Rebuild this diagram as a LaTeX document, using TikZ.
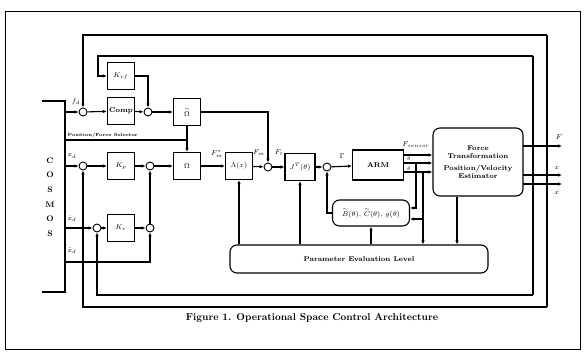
\documentclass[tikz,border=0pt]{standalone}
\usepackage{amsmath}
\usetikzlibrary{arrows.meta}
\begin{document}
\begin{tikzpicture}[x=1pt,y=-1pt]
  \tikzset{
    blk/.style={draw, line width=1.1pt, minimum width=27pt, minimum height=27pt, inner sep=1pt, font=\scriptsize\bfseries},
    rblk/.style={blk, rounded corners=7pt},
    sum/.style={draw, circle, line width=0.9pt, minimum size=8pt, inner sep=0pt},
    sig/.style={line width=1.1pt},
    arr/.style={sig, -{Latex[length=4pt,width=3.5pt]}},
    lbl/.style={font=\scriptsize, inner sep=0.5pt}
  }
  \useasboundingbox (0,0) rectangle (585,355);
  \draw[line width=0.8pt] (5,11) rectangle (580,349);

  % blocks
  \node[blk] (kvf) at (121,76) {$K_{vf}$};
  \node[blk] (comp) at (121,111) {Comp};
  \node[blk] (omt) at (187,112) {$\overset{\sim}{\Omega}$};
  \node[blk] (kp) at (121,166) {$K_p$};
  \node[blk] (om) at (187,166) {$\Omega$};
  \node[blk] (kv) at (121,228) {$K_v$};
  \node[blk] (lam) at (239,166) {$\Lambda(x)$};
  \node[blk, minimum width=30pt] (jt) at (300,167) {$J^T(\theta)$};
  \node[blk, minimum width=51pt, minimum height=30pt] (arm) at (378,165) {ARM};
  \node[rblk, minimum width=77pt, minimum height=26pt] (est) at (371,213)
    {$\overset{\sim}{B}(\theta),\,\overset{\sim}{C}(\theta),\,g(\theta)$};
  \node[rblk, minimum width=90pt, minimum height=68pt, align=center] (force) at (478,162)
    {Force\\Transformation\\[4pt]Position/Velocity\\Estimator};
  \node[rblk, minimum width=258pt, minimum height=28pt] (pel) at (359,259) {Parameter Evaluation Level};

  % summing junctions
  \node[sum] (sf) at (83,112) {};
  \node[sum] (sc) at (148,112) {};
  \node[sum] (sp) at (83,166) {};
  \node[sum] (sp2) at (150,166) {};
  \node[sum] (sv) at (97,228) {};
  \node[sum] (sv2) at (150,228) {};
  \node[sum] (sm) at (268,167) {};
  \node[sum] (sg) at (327,167) {};

  % COSMOS
  \draw[sig] (42,101) -- (65,101) -- (65,292) -- (42,292);
  \node[font=\fontsize{8}{14.6}\selectfont\bfseries, align=center] (cosmos) at (50,197) {C\\O\\S\\M\\O\\S};
  \coordinate (cfd) at (65,112);
  \coordinate (csel) at (65,140);
  \coordinate (cxd) at (65,166);
  \coordinate (cvd) at (65,228);
  \coordinate (cad) at (65,262);

  % feedback loops
  \coordinate (tf) at (547,35);
  \coordinate (tv) at (533,56);
  \coordinate (bf) at (547,307);
  \coordinate (bv) at (533,295);
  \coordinate (kvc) at (98,56);
  \draw[arr] (tf) -| (sf);
  \draw[sig] (bf) -- (tf);
  \draw[arr] (bf) -| (sp);
  \draw[arr] (tv) -- (kvc) |- (kvf.west);
  \draw[sig] (bv) -- (tv);
  \draw[arr] (bv) -| (sv);

  % force row
  \draw[arr] (cfd) -- (sf);
  \draw[arr] (sf) -- (comp);
  \draw[arr] (comp) -- (sc);
  \draw[arr] (kvf.east) -| (sc);
  \draw[arr] (sc) -- (omt);
  \draw[arr] (omt) -- (om);
  \draw[sig] (csel) -- (csel -| om);
  \node[font=\fontsize{4.5}{5}\selectfont\bfseries, anchor=south west, inner sep=0.5pt] (seltxt) at (67,138) {Position/Force Selector};
  \draw[arr] (omt.east) -| (sm);

  % position row
  \draw[arr] (cxd) -- (sp);
  \draw[arr] (sp) -- (kp);
  \draw[arr] (kp) -- (sp2);
  \draw[arr] (sp2) -- (om);
  \draw[arr] (cvd) -- (sv);
  \draw[arr] (sv) -- (kv);
  \draw[arr] (kv) -- (sv2);
  \draw[arr] (sv2) -- (sp2);
  \draw[arr] (cad) -| (sv2);

  % main path
  \draw[arr] (om) -- (lam);
  \draw[arr] (lam) -- (sm);
  \draw[arr] (sm) -- (jt);
  \draw[arr] (jt) -- (sg);
  \draw[arr] (sg) -- (arm);
  \draw[arr] (est.west) -| (sg);

  % arm outputs
  \coordinate (afs) at (403,155);
  \coordinate (ath) at (403,163);
  \coordinate (atd) at (403,172);
  \coordinate (tth) at (416,163);
  \coordinate (ttd) at (423,172);
  \draw[arr] (afs) -- (afs -| force.west);
  \draw[arr] (ath) -- (ath -| force.west);
  \draw[arr] (atd) -- (atd -| force.west);
  \draw[arr] (tth) |- ([yshift=5pt]est.east);
  \draw[arr] (ttd) -- (ttd |- pel.north);
  \draw[arr] (ttd |- 0,219) -- (est.east |- 0,219);

  % parameter links
  \draw[arr] (pel.north -| lam) -- (lam);
  \draw[arr] (pel.north -| jt) -- (jt);
  \draw[arr] (pel.north -| est) -- (est);
  \draw[arr] (force.south -| 457,0) -- (pel.north -| 457,0);

  % outputs
  \coordinate (of) at (523,146);
  \coordinate (ox) at (523,175);
  \coordinate (ov) at (523,184);
  \draw[arr] (of) -- (562,146);
  \draw[arr] (ox) -- (562,175);
  \draw[arr] (ov) -- (562,184);

  % labels
  \node[lbl] (lfd) at (76,102) {$f_d$};
  \node[lbl] (lxd) at (72,156) {$x_d$};
  \node[lbl] (lvd) at (72,219) {$\dot{x}_d$};
  \node[lbl] (lad) at (72,251) {$\ddot{x}_d$};
  \node[lbl] (lfms) at (217,154) {$F_m^{*}$};
  \node[lbl] (lfm) at (259,153) {$F_m$};
  \node[lbl] (lft) at (279,153) {$F_t$};
  \node[lbl] (lg) at (342,156) {$\Gamma$};
  \node[lbl] (lfs) at (416,145) {$F_{sensor}$};
  \node[lbl, font=\tiny] (lth) at (409,159) {$\theta$};
  \node[lbl, font=\tiny] (ltd) at (409,168) {$\dot{\theta}$};
  \node[lbl] (lF) at (559,137) {$F$};
  \node[lbl] (lx) at (557,168) {$x$};
  \node[lbl] (lv) at (557,192) {$\dot{x}$};

  \node (cap) at (312,318) {\bfseries Figure 1. Operational Space Control Architecture};
\end{tikzpicture}
\end{document}
